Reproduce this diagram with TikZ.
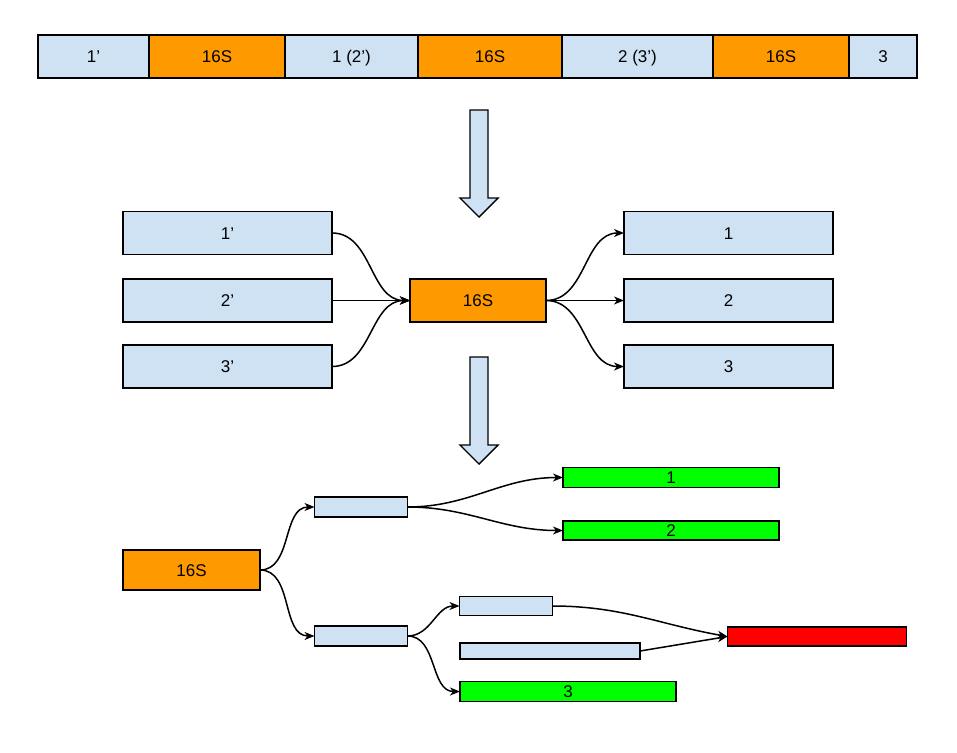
\documentclass[tikz,border=0pt]{standalone}
\usepackage{fontspec}
\setmainfont{Liberation Sans}
\usetikzlibrary{positioning,arrows.meta}
\definecolor{flankblue}{HTML}{CFE2F3}
\definecolor{rrnorange}{HTML}{FF9900}
\definecolor{hitgreen}{HTML}{00FF00}
\definecolor{chimred}{HTML}{FF0000}
\begin{document}
\begin{tikzpicture}[x=1pt,y=-1pt]
    \tikzstyle{box}=[draw,line width=1.4pt,inner sep=0pt,outer sep=0pt,text height=12pt,text depth=0pt,font=\fontsize{17}{19}\selectfont];
    \tikzstyle{flank}=[box,fill=flankblue];
    \tikzstyle{rrn}=[box,fill=rrnorange];
    \tikzstyle{hit}=[box,fill=hitgreen];
    \tikzstyle{chim}=[box,fill=chimred];
    \tikzstyle{seg}=[minimum height=43pt];
    \tikzstyle{link}=[line width=1.5pt,-{Stealth[length=10pt,width=8pt,inset=3pt]}];
    \tikzstyle{bigarrow}=[draw,line width=1.4pt,fill=flankblue,line join=miter];

    \useasboundingbox (0,0) rectangle (957,752);

    % operon
    \node (t1) [flank,seg,minimum width=111pt] at (93.5,56.5) {1’};
    \node (t2) [rrn,seg,minimum width=136pt,right=0pt of t1] {16S};
    \node (t3) [flank,seg,minimum width=133pt,right=0pt of t2] {1 (2’)};
    \node (t4) [rrn,seg,minimum width=144pt,right=0pt of t3] {16S};
    \node (t5) [flank,seg,minimum width=151pt,right=0pt of t4] {2 (3’)};
    \node (t6) [rrn,seg,minimum width=136pt,right=0pt of t5] {16S};
    \node (t7) [flank,seg,minimum width=68pt,right=0pt of t6] {3};

    \draw [bigarrow] (470,110) -- (488,110) -- (488,198) -- (498,198) -- (479,217)
        -- (460,198) -- (470,198) -- cycle;

    % flanks around one 16S
    \node (mid) [rrn,seg,minimum width=136pt] at (478,300.5) {16S};
    \foreach \i/\y in {1/233,2/300.5,3/366.5}{
        \node (l\i) [flank,seg,minimum width=209pt] at (227.5,\y) {\i’};
        \node (r\i) [flank,seg,minimum width=209pt] at (728.5,\y) {\i};
    }
    \foreach \i in {1,2,3}{
        \draw [link] (l\i.east) to[out=0,in=180] (mid.west);
        \draw [link] (mid.east) to[out=0,in=180] (r\i.west);
    }

    \draw [bigarrow] (470,357) -- (488,357) -- (488,445) -- (498,445) -- (479,464)
        -- (460,445) -- (470,445) -- cycle;

    % tree of reads
    \node (b16) [rrn,minimum width=137pt,minimum height=40pt] at (191.5,570) {16S};
    \node (bu) [flank,minimum width=93pt,minimum height=20pt] at (361,507) {};
    \node (bl) [flank,minimum width=93pt,minimum height=20pt] at (361,636) {};
    \node (g1) [hit,minimum width=216pt,minimum height=20pt] at (671,477.5) {1};
    \node (g2) [hit,minimum width=216pt,minimum height=19pt] at (671,530.5) {2};
    \node (bs) [flank,minimum width=93pt,minimum height=19pt] at (506,606) {};
    \node (blong) [flank,minimum width=180pt,minimum height=16pt] at (550,651) {};
    \node (g3) [hit,minimum width=216pt,minimum height=20pt] at (568,691.5) {3};
    \node (red) [chim,minimum width=179pt,minimum height=19pt] at (817,636.5) {};

    \draw [link] (b16.east) to[out=0,in=180] (bu.west);
    \draw [link] (b16.east) to[out=0,in=180] (bl.west);
    \draw [link] (bu.east) to[out=0,in=180] (g1.west);
    \draw [link] (bu.east) to[out=0,in=180] (g2.west);
    \draw [link] (bl.east) to[out=0,in=180] (bs.west);
    \draw [link] (bl.east) to[out=0,in=180] (g3.west);
    \draw [link] (bs.east) to[out=0,in=170] (red.west);
    \draw [link] (blong.east) -- (red.west);

\end{tikzpicture}
\end{document}
